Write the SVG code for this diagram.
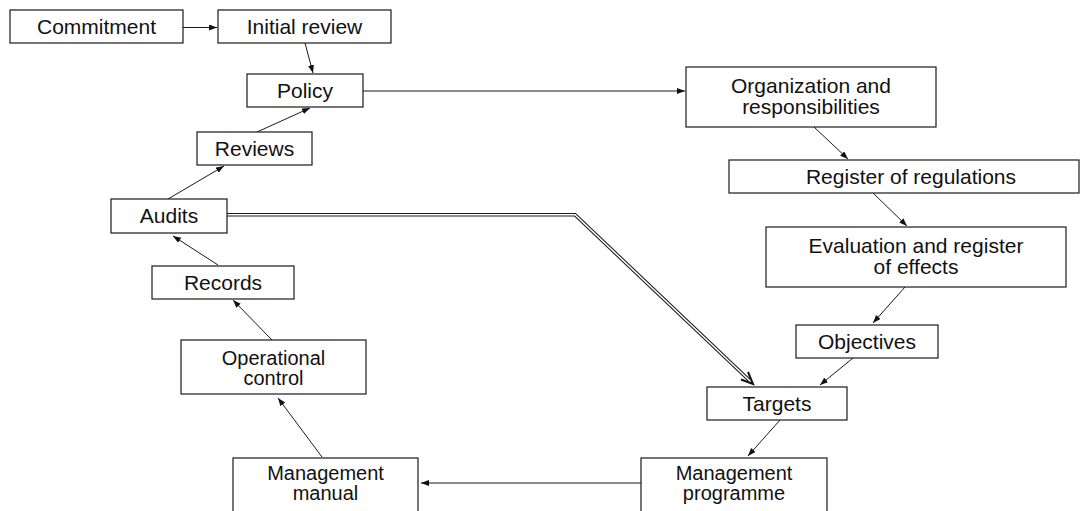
<svg xmlns="http://www.w3.org/2000/svg" width="1080" height="511" viewBox="0 0 1080 511">
<style>
.box{fill:#fff;stroke:#1a1a1a;stroke-width:1.2}
.t{font-family:"Liberation Sans",Arial,sans-serif;font-size:21px;fill:#111;text-anchor:middle}
.s{font-size:20px}
.c{fill:none;stroke:#1a1a1a;stroke-width:1}
</style>
<defs>
<marker id="ah" markerUnits="userSpaceOnUse" markerWidth="9" markerHeight="7" refX="8" refY="3" orient="auto">
<path d="M0,0 L8,3 L0,6 z" fill="#111"/>
</marker>
</defs>
<rect width="1080" height="511" fill="#fff"/>
<g id="connectors">
<line class="c" x1="183" y1="27.5" x2="217" y2="27.5" marker-end="url(#ah)"/>
<line class="c" x1="305" y1="43" x2="313" y2="73" marker-end="url(#ah)"/>
<line class="c" x1="257" y1="132" x2="310" y2="108" marker-end="url(#ah)"/>
<line class="c" x1="168" y1="199" x2="224" y2="166" marker-end="url(#ah)"/>
<line class="c" x1="218" y1="265" x2="173" y2="236" marker-end="url(#ah)"/>
<line class="c" x1="272" y1="340" x2="233" y2="300" marker-end="url(#ah)"/>
<line class="c" x1="322" y1="457" x2="278" y2="398" marker-end="url(#ah)"/>
<line class="c" x1="641" y1="483" x2="421" y2="483" marker-end="url(#ah)"/>
<line class="c" x1="780" y1="420" x2="748" y2="456" marker-end="url(#ah)"/>
<line class="c" x1="853" y1="358" x2="820" y2="385" marker-end="url(#ah)"/>
<line class="c" x1="905" y1="287" x2="873" y2="323" marker-end="url(#ah)"/>
<line class="c" x1="873" y1="193" x2="907" y2="226" marker-end="url(#ah)"/>
<line class="c" x1="814" y1="127" x2="848" y2="159" marker-end="url(#ah)"/>
<line class="c" x1="363" y1="91" x2="685" y2="91" marker-end="url(#ah)"/>
<path d="M227,214.75 L575,214.75 L749,380" fill="none" stroke="#1a1a1a" stroke-width="3.6"/>
<path d="M227,214.75 L575,214.75 L749,380" fill="none" stroke="#fff" stroke-width="1.5"/>
<path d="M741,379.5 L753,384 L748,372" fill="none" stroke="#111" stroke-width="2"/>
</g>
<g id="commitment"><rect class="box" x="10" y="10" width="173" height="33"/><text class="t" x="96.5" y="33.5">Commitment</text></g>
<g id="initial-review"><rect class="box" x="218" y="10" width="173" height="33"/><text class="t" x="304.5" y="33.5">Initial review</text></g>
<g id="policy"><rect class="box" x="247" y="74" width="116" height="33"/><text class="t" x="305" y="97.5">Policy</text></g>
<g id="reviews"><rect class="box" x="197" y="132" width="115" height="33"/><text class="t" x="254.5" y="155.5">Reviews</text></g>
<g id="audits"><rect class="box" x="111" y="199" width="116" height="34"/><text class="t" x="169" y="223">Audits</text></g>
<g id="records"><rect class="box" x="152" y="266" width="142" height="33"/><text class="t" x="223" y="289.5">Records</text></g>
<g id="operational-control"><rect class="box" x="181" y="340" width="185" height="54"/><text class="t s" x="273.5" y="364.5">Operational</text><text class="t s" x="273.5" y="384.5">control</text></g>
<g id="management-manual"><rect class="box" x="233" y="458" width="185" height="70"/><text class="t s" x="325.5" y="480">Management</text><text class="t s" x="325.5" y="500">manual</text></g>
<g id="management-programme"><rect class="box" x="641" y="458" width="186" height="70"/><text class="t s" x="734" y="480">Management</text><text class="t s" x="734" y="500">programme</text></g>
<g id="targets"><rect class="box" x="707" y="387" width="140" height="33"/><text class="t" x="777" y="410.5">Targets</text></g>
<g id="objectives"><rect class="box" x="796" y="325" width="142" height="33"/><text class="t" x="867" y="348.5">Objectives</text></g>
<g id="evaluation"><rect class="box" x="766" y="227" width="300" height="60"/><text class="t" x="916" y="253">Evaluation and register</text><text class="t" x="916" y="274">of effects</text></g>
<g id="register"><rect class="box" x="729" y="160" width="350" height="33"/><text class="t" x="911" y="183.5">Register of regulations</text></g>
<g id="organization"><rect class="box" x="686" y="67" width="250" height="60"/><text class="t" x="811" y="93">Organization and</text><text class="t" x="811" y="114">responsibilities</text></g>
</svg>
